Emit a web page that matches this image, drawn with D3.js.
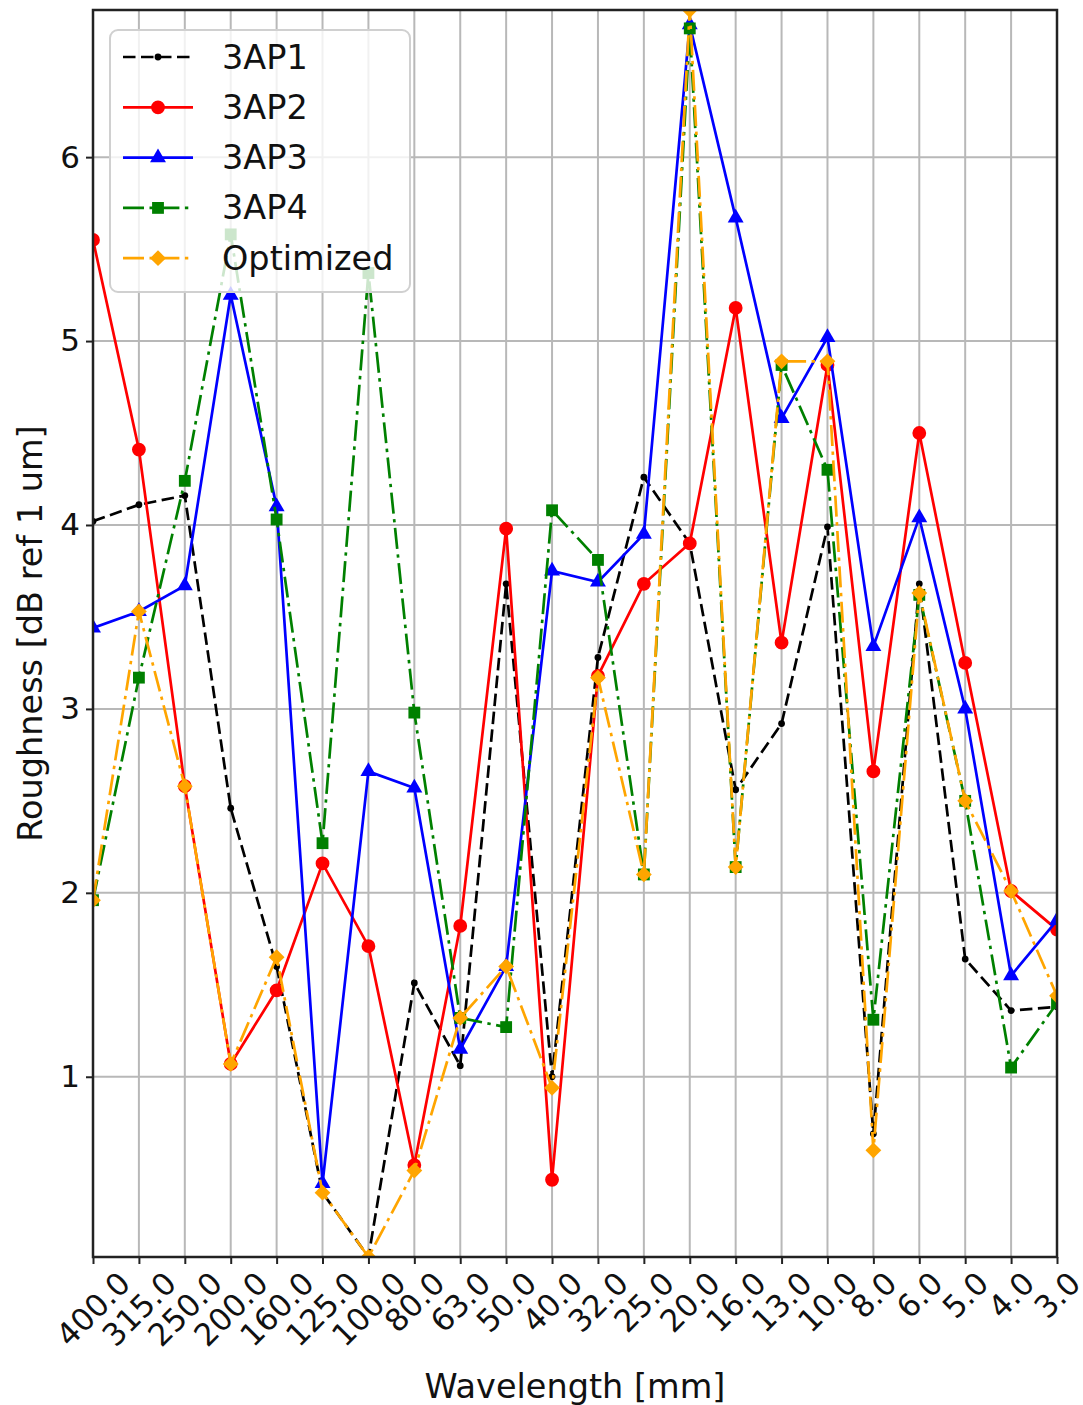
<!DOCTYPE html>
<html>
<head>
<meta charset="utf-8">
<script src="https://cdn.jsdelivr.net/npm/d3@7"></script>
<style>
  body { margin: 0; background: #fff; }
  svg { display: block; font-family: "DejaVu Sans", sans-serif; }
</style>
</head>
<body>
<svg width="1083" height="1405"></svg>
<script>
// wavelength bands (mm), left to right
var cats = ["400.0", "315.0", "250.0", "200.0", "160.0", "125.0", "100.0", "80.0", "63.0", "50.0", "40.0",
            "32.0", "25.0", "20.0", "16.0", "13.0", "10.0", "8.0", "6.0", "5.0", "4.0", "3.0"];

var ap1 = [4.02, 4.11, 4.16, 2.46, 1.60, 0.37, 0.02, 1.51, 1.06, 3.68, 1.00,
           3.28, 4.26, 3.90, 2.56, 2.92, 3.99, 0.69, 3.68, 1.64, 1.36, 1.38];
var ap2 = [5.55, 4.41, 2.58, 1.07, 1.47, 2.16, 1.71, 0.52, 1.82, 3.98, 0.44,
           3.18, 3.68, 3.90, 5.18, 3.36, 4.87, 2.66, 4.50, 3.25, 2.01, 1.80];
var ap3 = [3.44, 3.53, 3.67, 5.25, 4.10, 0.42, 2.66, 2.57, 1.15, 1.60, 3.75,
           3.69, 3.95, 6.72, 5.67, 4.58, 5.02, 3.34, 4.04, 3.00, 1.55, 1.85];
var ap4 = [1.96, 3.17, 4.24, 5.58, 4.03, 2.27, 5.37, 2.98, 1.32, 1.27, 4.08,
           3.81, 2.10, 6.70, 2.14, 4.87, 4.30, 1.31, 3.62, 2.50, 1.05, 1.40];
var opt = [1.96, 3.53, 2.58, 1.07, 1.65, 0.37, 0.02, 0.49, 1.32, 1.60, 0.94,
           3.17, 2.10, 6.80, 2.14, 4.89, 4.89, 0.60, 3.63, 2.50, 2.01, 1.44];

var yTicks = [1, 2, 3, 4, 5, 6];

var series = [
  { name: "3AP1", vals: ap1, color: "#000000", dash: "12.5,5.5", sym: d3.symbolCircle, size: 36, rot: 0 },
  { name: "3AP2", vals: ap2, color: "#ff0000", dash: null, sym: d3.symbolCircle, size: 150, rot: 0 },
  { name: "3AP3", vals: ap3, color: "#0000ff", dash: null, sym: d3.symbolTriangle, size: 110, rot: 0 },
  { name: "3AP4", vals: ap4, color: "#008000", dash: "21,5.5,3.4,5.5", sym: d3.symbolSquare, size: 140, rot: 0 },
  { name: "Optimized", vals: opt, color: "#ffa500", dash: "21,5.5,3.4,5.5", sym: d3.symbolSquare, size: 125, rot: 45 }
];

var svg = d3.select("svg");
var pLeft = 93, pRight = 1057, pTop = 10, pBottom = 1257;

var all = [].concat(ap1, ap2, ap3, ap4, opt);
var x = d3.scalePoint().domain(cats).range([pLeft, pRight]).padding(0);
var y = d3.scaleLinear().domain(d3.extent(all)).range([pBottom, pTop]);

// grid
svg.append("g").selectAll("line").data(cats).enter().append("line")
  .attr("x1", function (d) { return x(d); }).attr("x2", function (d) { return x(d); })
  .attr("y1", pTop).attr("y2", pBottom)
  .attr("stroke", "#b8b8b8").attr("stroke-width", 2);
svg.append("g").selectAll("line").data(yTicks).enter().append("line")
  .attr("x1", pLeft).attr("x2", pRight)
  .attr("y1", function (d) { return y(d); }).attr("y2", function (d) { return y(d); })
  .attr("stroke", "#b8b8b8").attr("stroke-width", 2);

svg.append("clipPath").attr("id", "plotclip").append("rect")
  .attr("x", pLeft).attr("y", pTop).attr("width", pRight - pLeft).attr("height", pBottom - pTop);

var plot = svg.append("g").attr("clip-path", "url(#plotclip)");
var line = d3.line()
  .x(function (d, i) { return x(cats[i]); })
  .y(function (d) { return y(d); });

series.forEach(function (s) {
  plot.append("path").datum(s.vals)
    .attr("d", line)
    .attr("fill", "none")
    .attr("stroke", s.color)
    .attr("stroke-width", 2.7)
    .attr("stroke-dasharray", s.dash);
  plot.append("g").selectAll("path").data(s.vals).enter().append("path")
    .attr("d", d3.symbol().type(s.sym).size(s.size))
    .attr("transform", function (d, i) { return "translate(" + x(cats[i]) + "," + y(d) + ") rotate(" + s.rot + ")"; })
    .attr("fill", s.color);
});

// axes
var yAxis = d3.axisLeft(y).tickValues(yTicks).tickSize(7).tickPadding(6).tickFormat(d3.format("d"));
var gy = svg.append("g").attr("transform", "translate(" + pLeft + ",0)").call(yAxis);
gy.select(".domain").remove();
gy.selectAll("line").attr("stroke", "#222").attr("stroke-width", 2);
gy.selectAll("text").attr("font-size", 31).attr("fill", "#111").attr("font-family", "DejaVu Sans");

var xAxis = d3.axisBottom(x).tickSize(7).tickFormat("");
var gx = svg.append("g").attr("transform", "translate(0," + pBottom + ")").call(xAxis);
gx.select(".domain").remove();
gx.selectAll("line").attr("stroke", "#222").attr("stroke-width", 2);

// rotated tick labels, centred under each tick like matplotlib
var labTop = pBottom + 12;
cats.forEach(function (c) {
  var t = svg.append("text").text(c)
    .attr("font-size", 31).attr("fill", "#111")
    .attr("text-anchor", "middle").attr("dy", "0.36em");
  var w = t.node().getComputedTextLength();
  var h = 24;
  var off = (w + h) / (2 * Math.SQRT2);
  t.attr("transform", "translate(" + x(c) + "," + (labTop + off) + ") rotate(-45)");
});

// frame
svg.append("rect").attr("x", pLeft).attr("y", pTop)
  .attr("width", pRight - pLeft).attr("height", pBottom - pTop)
  .attr("fill", "none").attr("stroke", "#222").attr("stroke-width", 2.5);

// axis titles
svg.append("text").text("Wavelength [mm]")
  .attr("x", (pLeft + pRight) / 2).attr("y", 1386)
  .attr("text-anchor", "middle").attr("dominant-baseline", "central")
  .attr("font-size", 33.5).attr("fill", "#111");
svg.append("text").text("Roughness [dB ref 1 um]")
  .attr("transform", "translate(30," + ((pTop + pBottom) / 2) + ") rotate(-90)")
  .attr("text-anchor", "middle").attr("dominant-baseline", "central")
  .attr("font-size", 33.5).attr("fill", "#111");

// legend
var lg = svg.append("g");
lg.append("rect").attr("x", 110).attr("y", 30).attr("width", 300).attr("height", 262)
  .attr("rx", 8).attr("fill", "#fff").attr("fill-opacity", 0.8)
  .attr("stroke", "#d0d0d0").attr("stroke-width", 2);
series.forEach(function (s, i) {
  var yy = 57 + i * 50.3;
  lg.append("line").attr("x1", 123).attr("x2", 193).attr("y1", yy).attr("y2", yy)
    .attr("stroke", s.color).attr("stroke-width", 2.7).attr("stroke-dasharray", s.dash);
  lg.append("path").attr("d", d3.symbol().type(s.sym).size(s.size)())
    .attr("transform", "translate(158," + yy + ") rotate(" + s.rot + ")")
    .attr("fill", s.color);
  lg.append("text").text(s.name).attr("x", 222).attr("y", yy)
    .attr("dominant-baseline", "central").attr("font-size", 33.5).attr("fill", "#111");
});
</script>
</body>
</html>
